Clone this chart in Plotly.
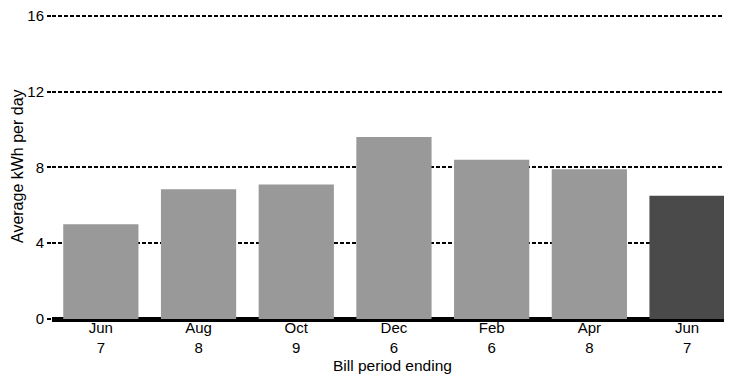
import plotly.graph_objects as go

months = ["Jun", "Aug", "Oct", "Dec", "Feb", "Apr", "Jun"]
days = ["7", "8", "9", "6", "6", "8", "7"]
kwh_per_day = [5.0, 6.85, 7.1, 9.6, 8.4, 7.9, 6.5]
bar_colors = ["#999999"] * 6 + ["#4a4a4a"]
y_ticks = [0, 4, 8, 12, 16]

cats = [f"{m}<br>{d}" for m, d in zip(months, days)]
x_idx = list(range(len(cats)))

fig = go.Figure(go.Bar(
    x=x_idx, y=kwh_per_day, marker=dict(color=bar_colors, line=dict(width=0)),
    width=0.77,
))

fam = "Liberation Sans, Arial"
fig.update_layout(
    width=732, height=376,
    margin=dict(l=44, r=8, t=5, b=65),
    paper_bgcolor="white", plot_bgcolor="white",
    showlegend=False,
    font=dict(family=fam, color="black", size=15),
    xaxis=dict(
        tickmode="array", tickvals=x_idx, ticktext=cats,
        range=[-0.5, 6.46], showgrid=False, ticks="", showline=False,
        tickfont=dict(size=15, family=fam), automargin=False,
        ticklabelstandoff=-2,
    ),
    yaxis=dict(
        range=[0, 16.15], tickvals=y_ticks, showgrid=True,
        gridcolor="black", gridwidth=2, griddash="4px,2px",
        zeroline=True, zerolinecolor="black", zerolinewidth=5,
        ticks="outside", ticklen=4, tickcolor="black", tickwidth=1.5,
        tickfont=dict(size=15, family=fam), automargin=False,
        ticklabeloverflow="allow",
        showline=False,
    ),
    annotations=[
        dict(text="Bill period ending", xref="paper", yref="paper",
             x=0.5, y=0, yshift=-46, xanchor="center", yanchor="middle",
             showarrow=False, font=dict(size=15.5, family=fam)),
        dict(text="Average kWh per day", xref="paper", yref="paper",
             x=0, y=0.5, xshift=-35, xanchor="center", yanchor="middle",
             textangle=-90, showarrow=False, font=dict(size=16, family=fam)),
    ],
)

fig.write_html("out.html")
